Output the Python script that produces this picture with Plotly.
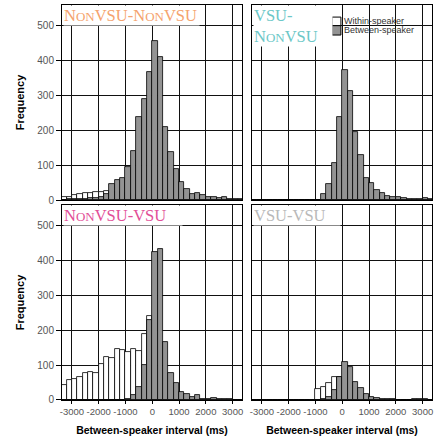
import plotly.graph_objects as go
from plotly.subplots import make_subplots

# Bin centres (ms), 200 ms bins from -3400 to 3400
bin_centers = [-3300 + 200 * i for i in range(34)]

# NonVSU-NonVSU
nn_within = [10, 10, 14, 17, 19, 19, 22, 23, 27, 24, 22, 20, 18, 14, 10, 6, 3,
             0, 0, 0, 0, 0, 0, 0, 0, 0, 0, 0, 0, 0, 0, 0, 0, 0]
nn_between = [1, 2, 2, 3, 4, 5, 6, 10, 18, 46, 58, 64, 95, 141, 237, 289, 368,
              457, 410, 211, 137, 88, 53, 33, 18, 21, 14, 10, 8, 6, 10, 4, 3, 2]

# VSU-NonVSU
vn_within = [0] * 34
vn_between = [0, 0, 0, 0, 0, 0, 0, 0, 0, 0, 0, 0, 0, 16, 46, 105, 238,
              374, 312, 195, 128, 62, 48, 29, 19, 12, 10, 8, 6, 4, 3, 3, 5, 4]

# NonVSU-VSU
nv_within = [43, 57, 61, 67, 78, 80, 79, 104, 123, 122, 146, 144, 139, 146, 141, 189, 240,
             0, 0, 0, 0, 0, 0, 0, 0, 0, 0, 0, 0, 0, 0, 0, 0, 0]
nv_between = [0, 0, 0, 0, 0, 0, 0, 0, 0, 0, 0, 0, 2, 13, 37, 100, 230,
              425, 434, 168, 79, 48, 24, 16, 10, 13, 3, 3, 6, 3, 2, 2, 1, 1]

# VSU-VSU
vv_within = [0, 0, 0, 0, 0, 0, 0, 0, 0, 0, 0, 0, 31, 36, 50, 65, 67,
             0, 0, 0, 0, 0, 0, 0, 0, 0, 0, 0, 0, 0, 0, 0, 0, 0]
vv_between = [0, 0, 0, 0, 0, 0, 0, 0, 0, 0, 0, 0, 0, 4, 10, 29, 65,
              110, 96, 53, 34, 16, 8, 6, 3, 3, 2, 1, 1, 1, 3, 3, 2, 0]

x_ticks = [-3000, -2000, -1000, 0, 1000, 2000, 3000]
x_ticktext = ["-3000", "-2000", "-1000", "0", "1000", "2000", "3000"]
y_ticks = [0, 100, 200, 300, 400, 500]

panels = [
    (1, 1, nn_within, nn_between),
    (1, 2, vn_within, vn_between),
    (2, 1, nv_within, nv_between),
    (2, 2, vv_within, vv_between),
]

fig = make_subplots(rows=2, cols=2, horizontal_spacing=0.027, vertical_spacing=0.0126)

GRAY = "#939393"
for r, c, w, b in panels:
    fig.add_trace(go.Bar(x=bin_centers, y=w, width=200, marker=dict(color="white", line=dict(color="black", width=0.8)),
                         showlegend=False, hoverinfo="skip"), row=r, col=c)
    fig.add_trace(go.Bar(x=bin_centers, y=b, width=200, marker=dict(color=GRAY, line=dict(color="black", width=0.8)),
                         showlegend=False, hoverinfo="skip"), row=r, col=c)

fig.update_layout(
    width=441, height=436, barmode="overlay", bargap=0,
    margin=dict(l=62, r=9, t=5, b=36),
    plot_bgcolor="white", paper_bgcolor="white",
    font=dict(family="Liberation Sans", color="#444"),
)

fig.update_xaxes(range=[-3370, 3350], tickvals=x_ticks, ticktext=x_ticktext, showgrid=True, gridcolor="#111", gridwidth=1,
                 showline=True, linecolor="black", linewidth=1, mirror=True, zeroline=False, automargin=False,
                 tickfont=dict(size=9.5, color="#555"), ticks="", showticklabels=False, tickangle=0)
fig.update_xaxes(row=2, ticks="outside", ticklen=3, tickcolor="black", showticklabels=True, tickangle=0,
                 title=dict(text="<b>Between-speaker interval (ms)</b>", font=dict(size=10.5, color="black"), standoff=10))
fig.update_yaxes(range=[0, 560], tickvals=y_ticks, showgrid=True, gridcolor="#111", gridwidth=1,
                 showline=True, linecolor="black", linewidth=1, mirror=True, zeroline=False, automargin=False,
                 tickfont=dict(size=10, color="#555"), showticklabels=False)
fig.update_yaxes(col=1, ticks="outside", ticklen=5, tickcolor="black", showticklabels=True,
                 title=dict(text="<b>Frequency</b>", font=dict(size=11, color="black"), standoff=10))

def sc(t):
    return '<span style="font-size:13px">' + t + '</span>'

titles = [
    ("x", "y", "N" + sc("ON") + "VSU-N" + sc("ON") + "VSU", "#F5A36E", 135),
    ("x2", "y2", "VSU-<br>N" + sc("ON") + "VSU", "#6CC7C7", 78),
    ("x3", "y3", "N" + sc("ON") + "VSU-VSU", "#E24F98", 118),
    ("x4", "y4", "VSU-VSU", "#B9B9B9", 86),
]
for xr, yr, txt, col, wdt in titles:
    fig.add_annotation(text=txt, xref=xr + " domain", yref=yr + " domain", x=0, y=1,
                       xanchor="left", yanchor="top", showarrow=False, bgcolor="white",
                       width=wdt, align="left", valign="top", borderpad=0, xshift=1,
                       font=dict(family="Liberation Serif", size=16.5, color=col))

# Legend (top-right panel)
leg = [("Within-speaker", "white", 0.938, 0.894), ("Between-speaker", GRAY, 0.894, 0.846)]
for name, colr, y1, y0 in leg:
    fig.add_shape(type="rect", xref="x2 domain", yref="y2 domain", x0=0.444, x1=0.494, y0=y0, y1=y1,
                  fillcolor=colr, line=dict(color="black", width=1))
    fig.add_annotation(text=name, xref="x2 domain", yref="y2 domain", x=0.5, y=(y0 + y1) / 2,
                       xanchor="left", yanchor="middle", showarrow=False,
                       font=dict(family="Liberation Sans", size=9, color="#333"))

fig.write_html("out.html", config={"displayModeBar": False},
               post_script="document.body.style.margin='0';")
